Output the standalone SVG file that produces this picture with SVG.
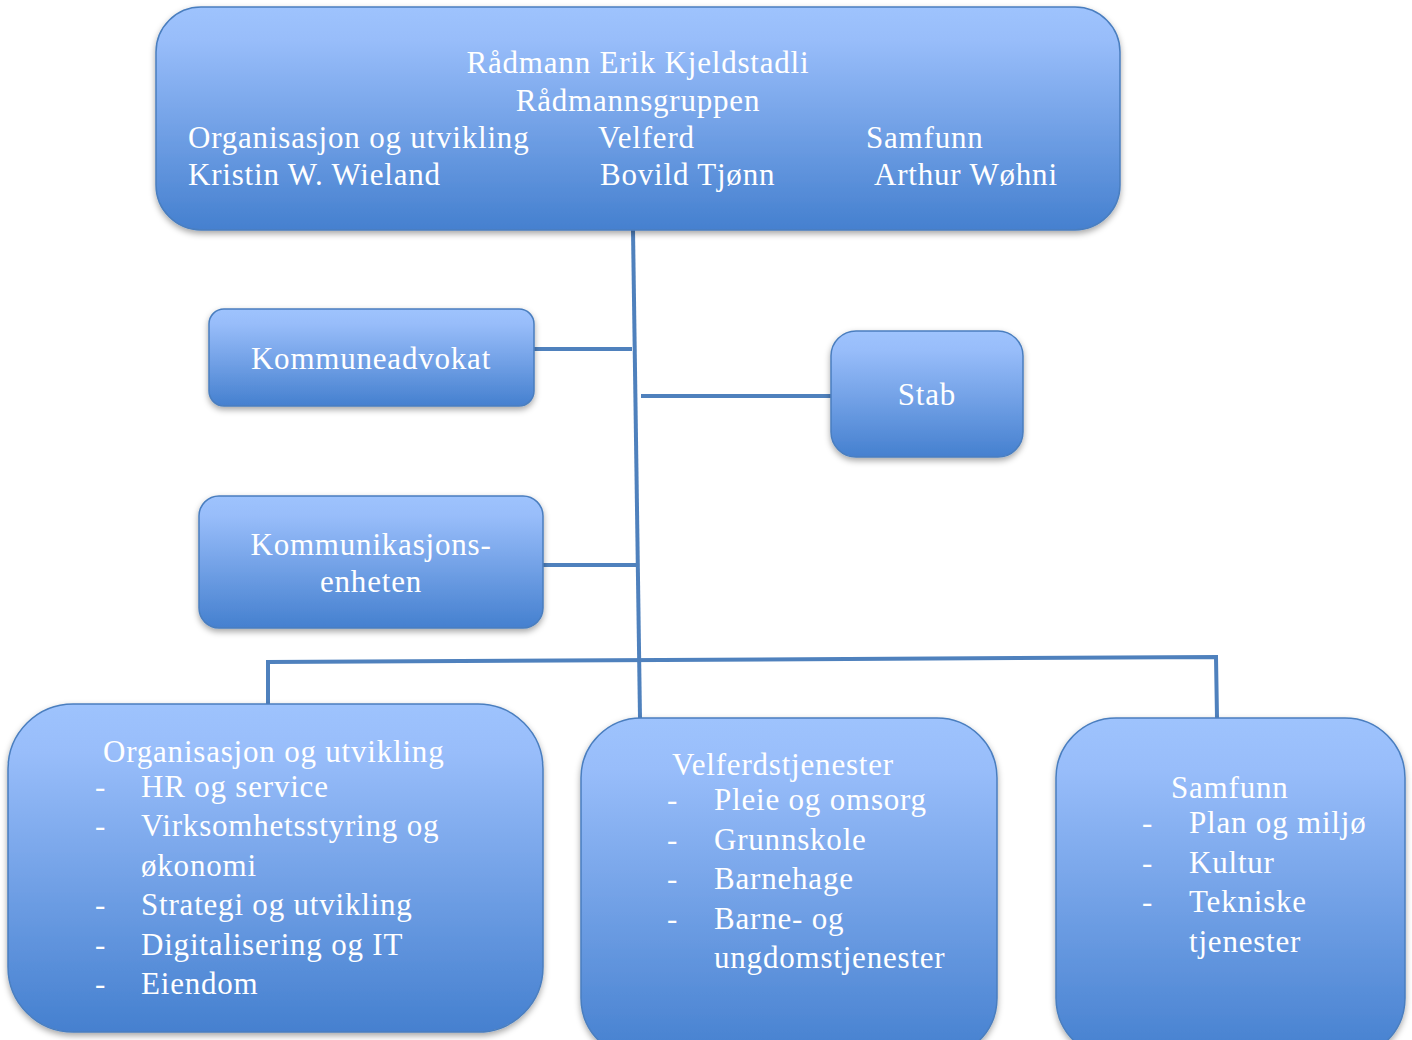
<svg xmlns="http://www.w3.org/2000/svg" width="1412" height="1040" viewBox="0 0 1412 1040">
<defs>
<linearGradient id="g" x1="0" y1="0" x2="0" y2="1">
<stop offset="0" stop-color="#9ec3fd"/>
<stop offset="0.15" stop-color="#98bdfa"/>
<stop offset="1" stop-color="#4580cf"/>
</linearGradient>
<filter id="sh" x="-10%" y="-10%" width="120%" height="130%">
<feDropShadow dx="0" dy="3" stdDeviation="3" flood-color="#000" flood-opacity="0.35"/>
</filter>
<style>
.box{fill:url(#g);stroke:#4a7ebf;stroke-width:1.5;filter:url(#sh)}
.t{font-family:"Liberation Serif","DejaVu Serif",serif;font-size:31px;letter-spacing:0.8px;fill:#fff}
.c{text-anchor:middle}
.ln{stroke:#4f81bd;stroke-width:4;fill:none}
</style>
</defs>
<g id="connectors">
<path class="ln" d="M633 230 L640 718"/>
<path class="ln" d="M534 349 L632 349"/>
<path class="ln" d="M641 396 L831 396"/>
<path class="ln" d="M543 565 L637 565"/>
<path class="ln" d="M268 704 L268 662 L1216 657 L1217 718"/>
</g>
<g id="top">
<rect class="box" x="156" y="7" width="964" height="223" rx="45"/>
<text class="t c" x="638" y="73">Rådmann Erik Kjeldstadli</text>
<text class="t c" x="638" y="111">Rådmannsgruppen</text>
<text class="t" x="188" y="148">Organisasjon og utvikling</text>
<text class="t" x="598" y="148">Velferd</text>
<text class="t" x="866" y="148">Samfunn</text>
<text class="t" x="188" y="185">Kristin W. Wieland</text>
<text class="t" x="600" y="185">Bovild Tjønn</text>
<text class="t" x="874" y="185">Arthur Wøhni</text>
</g>
<g id="kommuneadvokat">
<rect class="box" x="209" y="309" width="325" height="97" rx="15"/>
<text class="t c" x="371" y="369">Kommuneadvokat</text>
</g>
<g id="stab">
<rect class="box" x="831" y="331" width="192" height="126" rx="25"/>
<text class="t c" x="927" y="405">Stab</text>
</g>
<g id="kommunikasjon">
<rect class="box" x="199" y="496" width="344" height="132" rx="20"/>
<text class="t c" x="371" y="555">Kommunikasjons-</text>
<text class="t c" x="371" y="592">enheten</text>
</g>
<g id="org">
<rect class="box" x="8" y="704" width="535" height="328" rx="65"/>
<text class="t" x="103" y="762">Organisasjon og utvikling</text>
<text class="t" x="95" y="797">-</text><text class="t" x="141" y="797">HR og service</text>
<text class="t" x="95" y="836">-</text><text class="t" x="141" y="836">Virksomhetsstyring og</text>
<text class="t" x="141" y="876">økonomi</text>
<text class="t" x="95" y="915">-</text><text class="t" x="141" y="915">Strategi og utvikling</text>
<text class="t" x="95" y="955">-</text><text class="t" x="141" y="955">Digitalisering og IT</text>
<text class="t" x="95" y="994">-</text><text class="t" x="141" y="994">Eiendom</text>
</g>
<g id="velferd">
<rect class="box" x="581" y="718" width="416" height="340" rx="60"/>
<text class="t" x="672" y="775">Velferdstjenester</text>
<text class="t" x="667" y="810">-</text><text class="t" x="714" y="810">Pleie og omsorg</text>
<text class="t" x="667" y="850">-</text><text class="t" x="714" y="850">Grunnskole</text>
<text class="t" x="667" y="889">-</text><text class="t" x="714" y="889">Barnehage</text>
<text class="t" x="667" y="929">-</text><text class="t" x="714" y="929">Barne- og</text>
<text class="t" x="714" y="968">ungdomstjenester</text>
</g>
<g id="samfunn">
<rect class="box" x="1056" y="718" width="349" height="340" rx="60"/>
<text class="t" x="1171" y="798">Samfunn</text>
<text class="t" x="1142" y="833">-</text><text class="t" x="1189" y="833">Plan og miljø</text>
<text class="t" x="1142" y="873">-</text><text class="t" x="1189" y="873">Kultur</text>
<text class="t" x="1142" y="912">-</text><text class="t" x="1189" y="912">Tekniske</text>
<text class="t" x="1189" y="952">tjenester</text>
</g>
</svg>
